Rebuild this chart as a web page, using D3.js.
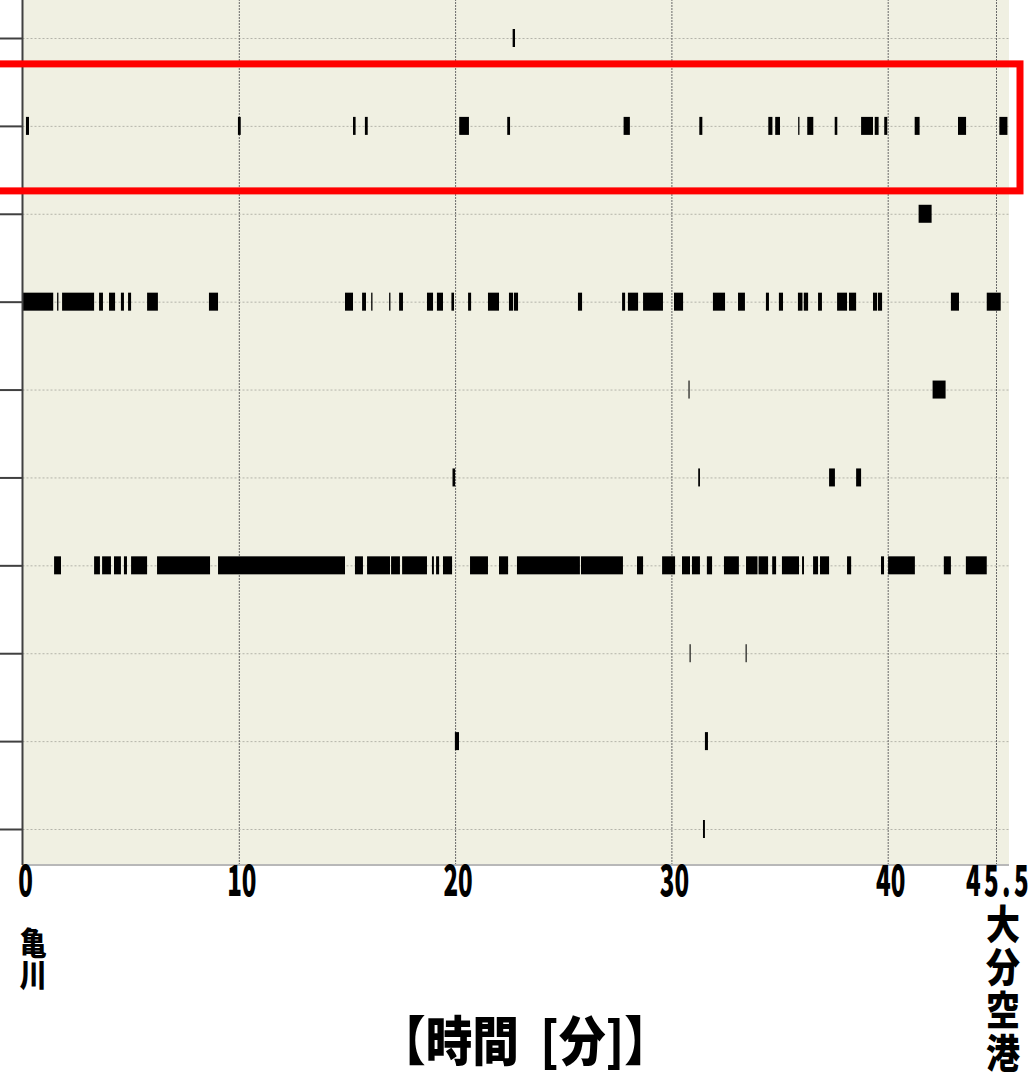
<!DOCTYPE html>
<html>
<head>
<meta charset="utf-8">
<script src="https://cdn.jsdelivr.net/npm/d3@7"></script>
<style>
    body { margin: 0; background: #ffffff; }
    svg { display: block; }
</style>
</head>
<body>
<svg id="chart" width="1034" height="1078"></svg>
<script>
// event spans [start, end] in minutes, one array per row, top to bottom
var row1 = [[22.66, 22.77]];
var row2 = [[0.16, 0.30], [9.96, 10.09], [15.28, 15.40], [15.83, 15.96], [20.19, 20.64], [22.41, 22.54],
    [27.79, 28.08], [31.29, 31.43], [34.48, 34.67], [34.80, 35.02], [35.86, 35.92], [36.28, 36.56],
    [37.55, 37.67], [38.77, 39.32], [39.40, 39.58], [39.84, 39.98], [41.37, 41.62], [43.57, 43.98], [45.67, 46.08]];
var row3 = [[41.57, 42.23]];
var row4 = [[0.00, 1.42], [1.60, 1.66], [1.83, 3.31], [3.54, 3.72], [4.00, 4.28], [4.55, 4.69], [4.88, 5.02],
    [5.76, 6.26], [8.62, 9.04], [14.91, 15.28], [15.70, 15.88], [16.12, 16.18], [16.95, 17.01], [17.41, 17.59],
    [18.70, 18.98], [19.16, 19.44], [19.83, 19.95], [20.60, 20.74], [21.52, 22.03], [22.49, 22.68], [22.72, 22.91],
    [25.68, 25.87], [27.72, 27.86], [27.99, 28.46], [28.69, 29.61], [30.12, 30.54], [31.92, 32.48], [33.08, 33.40],
    [34.37, 34.51], [34.97, 35.16], [35.85, 36.06], [36.12, 36.32], [36.78, 36.96], [37.66, 38.12], [38.21, 38.54],
    [39.32, 39.51], [39.55, 39.74], [43.21, 43.62], [45.03, 45.74]];
var row5 = [[30.79, 30.84], [42.28, 42.94]];
var row6 = [[19.88, 20.00], [31.24, 31.32], [37.29, 37.56], [38.54, 38.77]];
var row7 = [[1.46, 1.78], [3.31, 3.58], [3.68, 4.09], [4.23, 4.55], [4.69, 4.83], [5.02, 5.76], [6.22, 8.67],
    [9.04, 14.91], [15.37, 15.74], [15.93, 16.99], [17.04, 17.45], [17.55, 18.70], [18.93, 19.02], [19.12, 19.26],
    [19.44, 19.86], [20.69, 21.52], [22.03, 22.45], [22.86, 25.77], [25.82, 27.76], [28.41, 28.69], [29.57, 30.17],
    [30.49, 30.86], [30.95, 31.32], [31.64, 31.88], [32.43, 33.12], [33.45, 33.98], [34.03, 34.47], [34.66, 34.84],
    [35.11, 35.90], [36.04, 36.13], [36.55, 36.78], [36.87, 37.29], [38.12, 38.31], [39.69, 39.83], [40.02, 41.38],
    [42.85, 43.21], [43.97, 45.03]];
var row8 = [[30.84, 30.89], [33.43, 33.48]];
var row9 = [[19.99, 20.18], [31.55, 31.69]];
var row10 = [[31.46, 31.55]];
var rows = [row1, row2, row3, row4, row5, row6, row7, row8, row9, row10];

var xTickValues = [0, 10, 20, 30, 40, 45.5];
var xTickLabels = ["0", "10", "20", "30", "40", "45.5"];
var startLabel = "亀川";
var endLabel = "大分空港";
var axisTitle = "【時間  [分]】";
var highlightRow = 1;

var svg = d3.select("svg#chart");
var plotLeft = 22.5, plotRight = 1009, plotTop = 0, plotBottom = 865;
var font = "'Noto Sans CJK JP', 'DejaVu Sans', sans-serif";

// time axis is not uniform past 40 in the original, so break the scale there
var x = d3.scaleLinear()
    .domain([0, 40, 45.5, 46.16])
    .range([plotLeft, 887.7, 996, plotRight]);
var y = d3.scalePoint()
    .domain(d3.range(rows.length))
    .range([38, 829]);

svg.append("rect")
    .attr("x", plotLeft).attr("y", plotTop)
    .attr("width", plotRight - plotLeft).attr("height", plotBottom - plotTop)
    .attr("fill", "#f0f0e2");

// horizontal dotted lines
svg.append("g").selectAll("line")
    .data(d3.range(rows.length))
    .enter().append("line")
    .attr("x1", plotLeft).attr("x2", plotRight)
    .attr("y1", function (d) { return y(d) + 0.5; })
    .attr("y2", function (d) { return y(d) + 0.5; })
    .attr("stroke", "#b4b4aa").attr("stroke-width", 1)
    .attr("stroke-dasharray", "2,2");

// vertical grid
var xGrid = svg.append("g")
    .attr("transform", "translate(0," + plotBottom + ")")
    .call(d3.axisBottom(x).tickValues(xTickValues.slice(1)).tickSize(-(plotBottom - plotTop)).tickFormat(""));
xGrid.select(".domain").remove();
xGrid.selectAll("line")
    .attr("stroke", "#6a6a6a").attr("stroke-width", 1)
    .attr("stroke-dasharray", "2,1");

svg.append("line")
    .attr("x1", plotLeft).attr("x2", plotRight)
    .attr("y1", plotBottom).attr("y2", plotBottom)
    .attr("stroke", "#b8b8b8").attr("stroke-width", 2);

// bars
svg.append("g").selectAll("g")
    .data(rows)
    .enter().append("g")
    .attr("transform", function (d, i) { return "translate(0," + y(i) + ")"; })
    .selectAll("rect")
    .data(function (d) { return d; })
    .enter().append("rect")
    .attr("x", function (d) { return x(d[0]); })
    .attr("width", function (d) { return Math.max(1, x(d[1]) - x(d[0])); })
    .attr("y", -9).attr("height", 18)
    .attr("fill", "#000000");

// left axis
var yAxis = svg.append("g")
    .attr("transform", "translate(" + plotLeft + ",0)")
    .call(d3.axisLeft(y).tickSize(plotLeft).tickSizeOuter(0).tickFormat(""));
yAxis.select(".domain").remove();
yAxis.selectAll("line").attr("stroke", "#404040").attr("stroke-width", 2);
svg.append("line")
    .attr("x1", plotLeft).attr("x2", plotLeft)
    .attr("y1", plotTop).attr("y2", plotBottom)
    .attr("stroke", "#404040").attr("stroke-width", 2);

// highlight box
svg.append("rect")
    .attr("x", -20).attr("y", y(highlightRow) - 62)
    .attr("width", 1040).attr("height", 127)
    .attr("fill", "none").attr("stroke", "#ff0000").attr("stroke-width", 7);

// tick labels
svg.append("g").selectAll("text")
    .data(xTickValues)
    .enter().append("text")
    .attr("transform", function (d, i) {
        var last = i === xTickValues.length - 1;
        return "translate(" + (x(d) + (last ? 3 : 3)) + ",896) scale(0.56,1)";
    })
    .attr("text-anchor", "middle")
    .attr("letter-spacing", function (d, i) { return i === xTickValues.length - 1 ? 6 : 0; })
    .attr("font-family", font).attr("font-weight", 900).attr("font-size", 43)
    .attr("fill", "#000")
    .text(function (d, i) { return xTickLabels[i]; });

svg.append("text")
    .attr("transform", "translate(33,927) scale(0.85,1)")
    .attr("writing-mode", "vertical-rl")
    .attr("font-family", font).attr("font-weight", 900).attr("font-size", 32)
    .attr("fill", "#000")
    .text(startLabel);

svg.append("text")
    .attr("transform", "translate(1003,904) scale(0.85,1)")
    .attr("writing-mode", "vertical-rl")
    .attr("letter-spacing", 3)
    .attr("font-family", font).attr("font-weight", 900).attr("font-size", 40)
    .attr("fill", "#000")
    .text(endLabel);

svg.append("text")
    .attr("transform", "translate(525,1061) scale(0.88,1)")
    .attr("text-anchor", "middle")
    .style("white-space", "pre")
    .attr("font-family", font).attr("font-weight", 900).attr("font-size", 53)
    .attr("fill", "#000")
    .text(axisTitle);
</script>
</body>
</html>
